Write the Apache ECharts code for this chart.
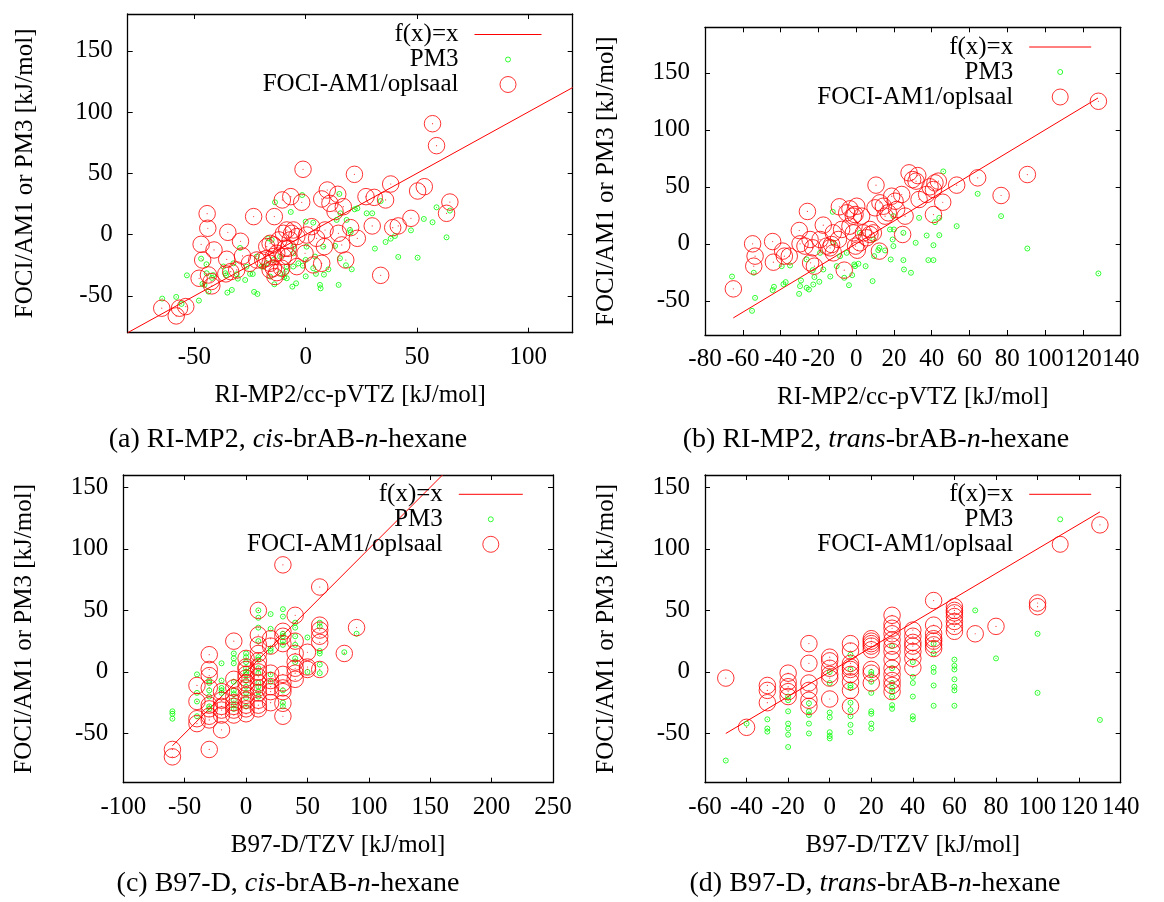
<!DOCTYPE html>
<html><head><meta charset="utf-8">
<script src="https://cdn.jsdelivr.net/npm/echarts@6/dist/echarts.min.js"></script>
<style>html,body{margin:0;padding:0;background:#fff}#c{width:1164px;height:902px}</style>
</head><body><div id="c"></div>
<script>
// ---------- panel (a): RI-MP2, cis ----------
const lineA = [[-80,-80],[120,120]];
const pm3A = [[-64.5,-52.2],[-58.2,-50.8],[-55.8,-56.5],[-53.4,-33.2],[-48,-53.8],[-47,-19.6],[-44.6,-24.2],[-42.1,-35.3],[-45.5,-41],[-35.2,-47.3],[-33.2,-45.1],[-35.8,-33.2],[-29.5,-10.9],[-30.5,-35.9],[-27.2,-37],[-23.8,-32.1],[-23.2,-46.7],[-21.7,-48.4],[-13.8,26.4],[-16.9,-3],[-15.3,-4.3],[-14.1,-40.5],[-8.5,-35.6],[-6,-42.4],[-4.3,-39.7],[-6.7,18.5],[-1.6,32.3],[0,10.6],[0,-34],[3.4,9.8],[6.4,-41],[6.7,-43.8],[8.2,-32.6],[10.2,-28.3],[14.8,-41],[15.1,33.2],[13.2,-9.2],[15.4,-19.3],[18.1,-25],[20.7,-28.3],[22,20.7],[23.2,21.5],[27.4,17.4],[29.9,17.4],[31.1,-11.4],[33.7,27.4],[35.9,-6],[38.2,-3.3],[40.1,-1.1],[41.6,-18.2],[47.3,3.5],[50.3,-18.8],[53.1,12.8],[57,10.1],[58.8,22.3],[63.3,-2.2],[64.8,19.6],[-5.5,-15.2],[-3.3,-23.4],[0.4,-9.8],[4.2,-17.9],[15.6,17.4],[13.9,12],[-5.5,-9.8],[-11.5,-31.5],[-19,-26.1],[-22,-17.9],[-26.6,-26.1],[-32.5,-23.4],[-44.5,-31.5],[7.9,-9.8],[19.9,3.8],[-43.7,-46.5],[-9.7,-34.7],[-8.8,-30.2],[-16,-34.2],[-25,-32],[-37,-26],[-36.1,-31.5],[-31,-32.3],[-41.6,-33],[-46.4,-40.2],[20.2,1.9],[18.4,12],[0,-20.6],[3.4,-27.4],[4.6,-32],[-8.5,-26],[-5.6,-26],[-1.3,-25.3],[-11.5,-17.9],[-14.5,-20.6],[-17.5,-23.3],[-19.8,-26]];
const fociA = [[-64.7,-60],[-58.2,-66.3],[-56.7,-60],[-53.9,-58.7],[-47.9,-35.6],[-47,-7.9],[-44.3,17.1],[-44,5.2],[-46.3,-20.7],[-43.7,-32.9],[-42.2,-41.8],[-42.5,-38.3],[-41.2,-12.5],[-35.5,-20.1],[-35.9,-32],[-35,1.9],[-29.3,-5.4],[-28.4,-17.4],[-33.7,-30.2],[-31,-28.8],[-25.3,-23.4],[-23.4,14.7],[-22,-20.7],[-19.3,-20.7],[-17.5,-19.3],[-16,-23.4],[-14.1,14.7],[-10.5,28.3],[-6.7,31],[-1.8,26.4],[-1.2,53.3],[-14.5,-27.4],[-13,-31],[-16,-28.8],[-13.8,-34.2],[-10.8,-27.4],[-10,-17.9],[-7.9,-17.9],[-7.8,-11.1],[-7,-4.3],[-6.3,1.1],[-5.5,3.8],[-4,-1.6],[-8.5,3.8],[-10,1.1],[-12,-4.3],[-14.5,-8.4],[-16,-7.1],[-17.5,-9.8],[-13,-15.2],[-14.5,-17.9],[-9.3,-11.1],[-4,-26.1],[-0.3,-15.2],[0.4,-0.3],[3.4,-24.7],[7.2,-23.4],[8.4,-9.8],[7.2,29.1],[9.7,36.4],[10.9,25.5],[13.2,18.8],[14.4,32.9],[16.9,22.8],[14.7,1.1],[16.2,-8.4],[18,-20.7],[20.2,5.7],[21.9,49.2],[23.2,-3],[27.1,31],[29.9,7.1],[30.8,30.4],[33.7,-33.2],[35.9,28.3],[38.2,41.3],[39.1,5.7],[41.6,7.1],[47.3,13.3],[50.3,35.6],[53.3,39.1],[57,90.5],[58.8,72.6],[63.3,17.4],[64.8,26.6],[8.7,3.8],[4.9,-3],[2.7,6.5]];
const xTicksA = [-50,0,50,100];
const yTicksA = [-50,0,50,100,150];

// ---------- panel (b): RI-MP2, trans ----------
const lineB = [[-65,-65],[128,128]];
const pm3B = [[-65.7,-28.7],[-55.1,-58.8],[-54.2,-25.4],[-53.5,-47.4],[-44.2,-40.6],[-43.5,-37.7],[-38.5,-35.4],[-37.3,-33.6],[-39.4,-19.6],[-35,-19],[-30.2,-43.9],[-29.7,-37.1],[-29.2,-32.2],[-26.2,-38.6],[-25,-40.1],[-22.7,-35.7],[-23,-23.1],[-22.1,-29.2],[-19.5,-33.3],[-17.4,-22.5],[-13.7,-28.7],[-12.4,28.1],[-10.3,-19.6],[-8.5,-10.8],[-6.3,-29.8],[-3.8,-36.3],[-2.1,-27.5],[-1,-18.1],[-0.6,-19.6],[1.2,-17.5],[5,-19.6],[8.7,-32.7],[11.7,-5.6],[15.3,-5.8],[18.3,-13.7],[19.3,3.8],[20,12.6],[25,-14.3],[25.3,-22.5],[29,-25.4],[31.5,0.9],[33.3,22.8],[37.3,7.3],[38.2,-14.3],[40.9,-14.3],[40.9,-1.2],[41.7,19],[44,7.6],[44,22.8],[46.1,63.5],[53.2,15.5],[64.3,43.9],[76.7,24.3],[90.6,-4.1],[128.2,-26],[9.5,-10.8],[12.3,-3.5],[19.7,24.3],[19.7,-2],[9.1,3.8],[2,9.6],[-5,-7.9],[-12.1,0.9],[-19.1,-7.9],[-26.2,-13.7],[17.9,12.6],[25,9.6]];
const fociB = [[-65,-39.5],[-54.8,0],[-53.5,-10.8],[-54.2,-19.6],[-44.2,2],[-43.8,-16.1],[-38.9,-6.4],[-38,-10.8],[-35.4,-10.8],[-30.1,11.7],[-29.7,0],[-27.1,-2],[-25.8,28.4],[-24.4,3.8],[-23,-3.5],[-24.1,-16.7],[-22.1,-19.6],[-17.4,16.4],[-15.6,-2],[-13.8,-3.5],[-13,-0.6],[-12.1,-7.9],[-9.4,3.8],[-8.9,32.5],[-7.7,12.6],[-6.3,-23.1],[-5,27.2],[-3.3,30.7],[-1.5,24.3],[-0.6,25.7],[0.3,33],[-1.5,9.6],[-0.3,-2],[0.6,-5.6],[2.9,24.3],[3.8,9.6],[5.6,5.3],[7.3,8.2],[9.1,9.6],[10.5,51.5],[12.3,-6.4],[10,31.6],[12.6,36],[14.4,33],[15.3,24.3],[17,27.2],[18.8,41.8],[20.6,37.4],[21.4,30.1],[24.1,43.3],[24.6,8.2],[25.9,24.3],[28,62.3],[29.9,56.4],[32.6,59.9],[31.7,55],[33.3,38.9],[37.3,43.3],[39.1,50],[40.9,25.7],[41.7,53.5],[43.5,55],[45.8,36.5],[40.9,47.7],[53.2,51.5],[64.3,57.9],[76.7,42.4],[90.6,60.8],[128.2,125.1],[2,0.9],[-19.1,3.8],[-12.1,9.6],[-3.3,15.5],[7.3,12.6]];
const xTicksB = [-80,-60,-40,-20,0,20,40,60,80,100,120,140];
const yTicksB = [-50,0,50,100,150];

// ---------- panel (c): B97-D, cis ----------
const lineC = [[-60,-60],[160,160]];
const pm3C = [[-60,-32],[-60,-34],[-60,-38],[-40,-2],[-40,-17],[-40,-24],[-40,-36],[-30,-7],[-30,-9],[-30,-15],[-30,-20],[-30,-28],[-30,-30],[-20,7],[-20,-7],[-20,-13],[-20,-15],[-20,-17],[-10,15],[-10,11],[-10,7],[-10,-8],[-10,-15],[-10,-18],[-10,-23],[-10,-27],[-10,-30],[0,15],[0,12],[0,8],[0,3],[0,0],[0,-2],[0,-7],[0,-12],[0,-17],[0,-21],[0,-28],[10,50],[10,44],[10,36],[10,25],[10,12],[10,10],[10,3],[10,-1],[10,-9],[10,-12],[10,-16],[10,-20],[20,47],[20,35],[20,19],[20,17],[20,-2],[20,-8],[30,51],[30,45],[30,31],[30,29],[30,25],[30,22],[30,-15],[30,-25],[30,-28],[40,40],[40,36],[40,29],[40,22],[40,11],[40,8],[50,28],[50,0],[60,40],[60,37],[60,17],[60,15],[60,6],[60,-1],[80,16],[90,31]];
const fociC = [[-60,-63],[-60,-69],[-40,-11],[-40,-24],[-40,-38],[-40,-42],[-30,14],[-30,2],[-30,-3],[-30,-13],[-30,-27],[-30,-30],[-30,-36],[-30,-39],[-30,-63],[-20,-16],[-20,-23],[-20,-28],[-20,-31],[-20,-35],[-20,-47],[-10,25],[-10,-6],[-10,-13],[-10,-20],[-10,-25],[-10,-28],[-10,-31],[-10,-35],[0,11],[0,4],[0,2],[0,-2],[0,-5],[0,-9],[0,-13],[0,-19],[0,-23],[0,-27],[0,-30],[0,-34],[10,50],[10,30],[10,22],[10,15],[10,9],[10,4],[10,0],[10,-4],[10,-9],[10,-13],[10,-17],[10,-23],[10,-27],[10,-30],[20,27],[20,21],[20,-1],[20,-7],[20,-12],[20,-16],[20,-25],[30,87],[30,33],[30,29],[30,23],[30,-2],[30,-9],[30,-13],[30,-16],[30,-25.5],[30,-36],[40,46],[40,25],[40,15],[40,8],[40,3],[40,-1],[40,-6],[50,16],[50,4],[50,2],[60,69],[60,38],[60,34],[60,29],[60,24],[60,2],[80,15],[90,36]];
const xTicksC = [-100,-50,0,50,100,150,200,250];
const yTicksC = [-50,0,50,100,150];

// ---------- panel (d): B97-D, trans ----------
const lineD = [[-50,-50],[130,130]];
const pm3D = [[-50,-72],[-40,-42],[-30,-38.5],[-30,-46],[-30,-48.5],[-20,-20],[-20,-23],[-20,-32],[-20,-42],[-20,-46],[-20,-51],[-20,-61],[-10,-25.5],[-10,-32],[-10,-35],[-10,-42],[-10,-50],[0,0],[0,-9],[0,-33],[0,-37],[0,-49],[0,-52],[0,-54],[10,14],[10,2],[10,-11],[10,-13],[10,-25],[10,-31],[10,-36],[10,-43],[10,-49],[20,0],[20,-2],[20,-8],[20,-17],[20,-32],[20,-34],[20,-42],[20,-46],[30,21],[30,3],[30,-9],[30,-13],[30,-16],[30,-20],[30,-27],[30,-30],[40,8],[40,-4],[40,-9],[40,-20],[40,-36],[40,-38.5],[50,23],[50,15],[50,3.5],[50,0],[50,-11],[50,-27.5],[60,10],[60,5],[60,2],[60,-6],[60,-12],[60,-15],[60,-27.5],[70,50],[80,11],[100,31],[100,-17],[130,-39]];
const fociD = [[-50,-5],[-40,-45],[-30,-11],[-30,-15],[-30,-25],[-20,-1],[-20,-8],[-20,-12],[-20,-16],[-20,-20],[-10,23],[-10,7],[-10,-9],[-10,-15],[-10,-23],[-10,-28],[0,12],[0,9],[0,3],[0,-2],[0,-5],[0,-22],[10,23],[10,17],[10,7],[10,4],[10,2],[10,-2],[10,-8],[10,-15],[10,-28],[20,27],[20,25],[20,23],[20,21],[20,18],[20,2],[20,-1],[20,-9],[30,46],[30,39],[30,35.5],[30,31],[30,26],[30,21],[30,16.5],[30,10],[30,3],[30,-2],[30,-7],[30,-11],[30,-16],[40,34],[40,29],[40,24],[40,21],[40,16.5],[40,11],[40,3.5],[50,58],[50,38],[50,31],[50,27],[50,25],[50,22],[50,19],[60,53],[60,50],[60,48],[60,45],[60,41],[60,37],[60,33],[70,31],[80,37],[100,56],[100,53],[130,119.5]];
const xTicksD = [-60,-40,-20,0,20,40,60,80,100,120,140];
const yTicksD = [-50,0,50,100,150];

const seriesNames = ['f(x)=x','PM3','FOCI-AM1/oplsaal'];
const xLabelTop = 'RI-MP2/cc-pVTZ [kJ/mol]';
const xLabelBottom = 'B97-D/TZV [kJ/mol]';
const yLabel = 'FOCI/AM1 or PM3 [kJ/mol]';
const captions = ['(a) RI-MP2, {i|cis}-brAB-{i|n}-hexane','(b) RI-MP2, {i|trans}-brAB-{i|n}-hexane','(c) B97-D, {i|cis}-brAB-{i|n}-hexane','(d) B97-D, {i|trans}-brAB-{i|n}-hexane'];

const FONT = 'Liberation Serif';
const RED = '#ff0000', GREEN = '#00ff00';

const panels = [
  {grid:{left:127.7,top:14,width:445,height:318.7}, xr:[-80,120], yr:[-80,180], xt:xTicksA, yt:yTicksA, line:lineA, pm3:pm3A, foci:fociA, xname:xLabelTop, ygap:90,
   legend:{right:622, top:22, w:67, gap:0}, cap:{x:288,y:440}},
  {grid:{left:705,top:27.3,width:415.7,height:307.7}, xr:[-80,140], yr:[-80,190], xt:xTicksB, yt:yTicksB, line:lineB, pm3:pm3B, foci:fociB, xname:xLabelTop, ygap:86,
   legend:{right:72.3, top:34.5, w:62, gap:0}, cap:{x:876,y:440}},
  {grid:{left:123.3,top:475,width:429.7,height:307.7}, xr:[-100,250], yr:[-90,160], xt:xTicksC, yt:yTicksC, line:lineC, pm3:pm3C, foci:fociC, xname:xLabelBottom, ygap:86,
   legend:{right:640.7, top:481.8, w:64, gap:0}, cap:{x:288,y:884}},
  {grid:{left:705,top:475,width:415.7,height:307.7}, xr:[-60,140], yr:[-90,160], xt:xTicksD, yt:yTicksD, line:lineD, pm3:pm3D, foci:fociD, xname:xLabelBottom, ygap:86,
   legend:{right:72.3, top:481.8, w:62, gap:0}, cap:{x:875,y:884}}
];

const axisLineStyle = {show:true, onZero:false, lineStyle:{color:'#000', width:1.3}};
const tickStyle = {color:'#000', width:1};
const labelStyle = {color:'#000', fontFamily:FONT, fontSize:25};

function smallCircleIcon(w){
  const h = 16, r = 2.5, cx = w/2, cy = h/2;
  return 'path://M0,0M' + w + ',' + h + 'M' + (cx+r) + ',' + cy + 'A' + r + ',' + r + ',0,1,1,' + (cx-r) + ',' + cy + 'A' + r + ',' + r + ',0,1,1,' + (cx+r) + ',' + cy + 'Z';
}
function lineIcon(w){
  return 'path://M0,0M' + w + ',16M0,8L' + w + ',8';
}

const grids = [], xAxes = [], yAxes = [], series = [], legends = [], graphics = [];
panels.forEach((p, i) => {
  grids.push(Object.assign({outerBoundsMode:'none', containLabel:false, show:false}, p.grid));
  xAxes.push({type:'value', gridIndex:i, position:'bottom', min:p.xr[0], max:p.xr[1],
    axisLine:axisLineStyle, splitLine:{show:false},
    axisTick:{show:true, inside:true, length:5, customValues:p.xt, lineStyle:tickStyle},
    axisLabel:Object.assign({customValues:p.xt, margin:12, interval:0, hideOverlap:false}, labelStyle),
    name:p.xname, nameLocation:'middle', nameGap:50, nameTextStyle:Object.assign({}, labelStyle)});
  xAxes.push({type:'value', gridIndex:i, position:'top', min:p.xr[0], max:p.xr[1],
    axisLine:axisLineStyle, splitLine:{show:false},
    axisTick:{show:true, inside:true, length:5, customValues:p.xt, lineStyle:tickStyle},
    axisLabel:{show:false}});
  yAxes.push({type:'value', gridIndex:i, position:'left', min:p.yr[0], max:p.yr[1],
    axisLine:axisLineStyle, splitLine:{show:false},
    axisTick:{show:true, inside:true, length:5, customValues:p.yt, lineStyle:tickStyle},
    axisLabel:Object.assign({customValues:p.yt, margin:15}, labelStyle),
    name:yLabel, nameLocation:'middle', nameGap:p.ygap, nameTextStyle:Object.assign({}, labelStyle)});
  yAxes.push({type:'value', gridIndex:i, position:'right', min:p.yr[0], max:p.yr[1],
    axisLine:axisLineStyle, splitLine:{show:false},
    axisTick:{show:true, inside:true, length:5, customValues:p.yt, lineStyle:tickStyle},
    axisLabel:{show:false}});
  const xi = 2*i, yi = 2*i;
  series.push({type:'line', name:seriesNames[0], xAxisIndex:xi, yAxisIndex:yi, data:p.line, symbol:'none', showSymbol:false,
    lineStyle:{color:RED, width:1}, itemStyle:{color:RED}, silent:true, z:2});
  series.push({type:'scatter', name:seriesNames[1], xAxisIndex:xi, yAxisIndex:yi, data:p.pm3, symbol:'circle', symbolSize:5,
    itemStyle:{color:'transparent', borderColor:GREEN, borderWidth:1}, silent:true, z:3});
  series.push({type:'scatter', name:'PM3 centre', xAxisIndex:xi, yAxisIndex:yi, data:p.pm3, symbol:'circle', symbolSize:1.2,
    itemStyle:{color:GREEN}, silent:true, z:3});
  series.push({type:'scatter', name:seriesNames[2], xAxisIndex:xi, yAxisIndex:yi, data:p.foci, symbol:'circle', symbolSize:16.5,
    itemStyle:{color:'transparent', borderColor:RED, borderWidth:1}, silent:true, z:4});
  series.push({type:'scatter', name:'FOCI centre', xAxisIndex:xi, yAxisIndex:yi, data:p.foci, symbol:'circle', symbolSize:1.2,
    itemStyle:{color:RED}, silent:true, z:4});
  legends.push({orient:'vertical', align:'right', right:p.legend.right, top:p.legend.top, padding:0,
    itemWidth:p.legend.w, itemHeight:16, itemGap:p.legend.gap, selectedMode:false,
    textStyle:{fontFamily:FONT, fontSize:25, color:'#000', padding:[0,11,0,0]},
    itemStyle:{borderWidth:1},
    data:[
      {name:seriesNames[0], icon:lineIcon(p.legend.w), itemStyle:{color:RED, borderColor:RED, borderWidth:1}, lineStyle:{color:RED, width:1}},
      {name:seriesNames[1], icon:smallCircleIcon(p.legend.w)},
      {name:seriesNames[2]}
    ]});
  graphics.push({type:'text', x:p.cap.x, y:p.cap.y, silent:true,
    style:{text:captions[i], x:0, y:0, align:'center', verticalAlign:'middle', fill:'#000', font:'28px "Liberation Serif"',
      rich:{i:{fontStyle:'italic', fontFamily:FONT, fontSize:28, fill:'#000'}}}});
});

const chart = echarts.init(document.getElementById('c'), null, {renderer:'canvas'});
chart.setOption({
  animation:false,
  backgroundColor:'#fff',
  grid:grids, xAxis:xAxes, yAxis:yAxes, series:series, legend:legends,
  graphic:graphics, tooltip:{show:false}
});
</script></body></html>
